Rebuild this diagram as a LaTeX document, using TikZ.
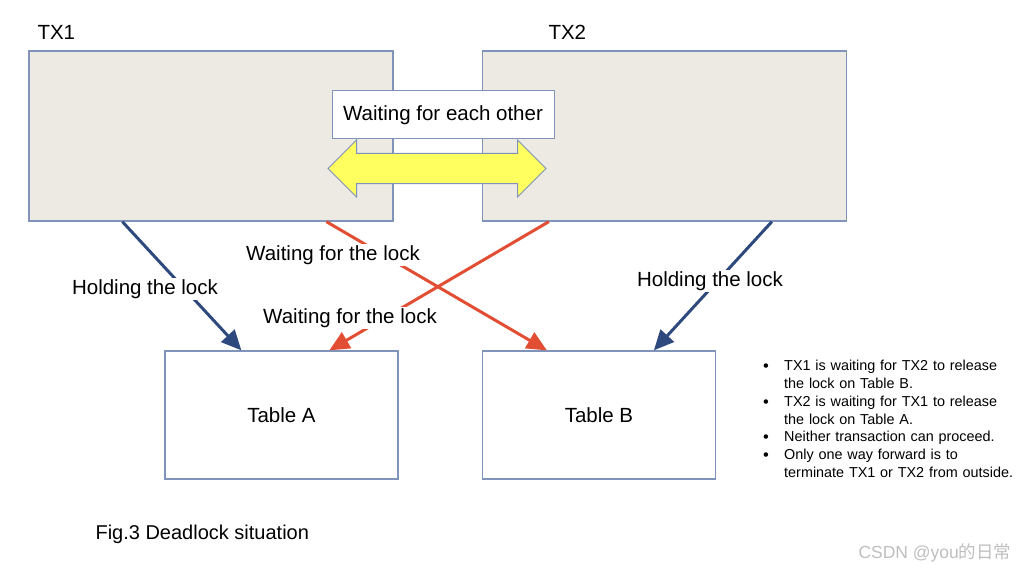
\documentclass[tikz,border=0pt]{standalone}
\usepackage{fontspec}
\setmainfont{Liberation Sans}
\newfontfamily\cjkfont{Noto Sans CJK SC}
\usetikzlibrary{shapes.arrows}
\usetikzlibrary{arrows.meta}
\definecolor{txgray}{RGB}{236,234,227}
\definecolor{edgeblue}{RGB}{128,148,186}
\definecolor{holdblue}{RGB}{45,73,126}
\definecolor{waitred}{RGB}{226,78,52}
\definecolor{arrowyellow}{RGB}{255,255,95}
\definecolor{markgray}{RGB}{190,190,190}
\tikzset{
    txbox/.style={draw=edgeblue, fill=txgray, line width=1.3pt, minimum width=364pt, minimum height=170pt},
    tablebox/.style={draw=edgeblue, fill=white, line width=1.3pt, minimum width=233pt, minimum height=128pt, font=\bigtext},
    holdarrow/.style={draw=holdblue, line width=3pt, -{Triangle[length=20pt,width=18pt]}},
    waitarrow/.style={draw=waitred, line width=3pt, -{Triangle[length=20pt,width=18pt]}},
    lbl/.style={fill=white, inner sep=1pt, font=\bigtext}
}
\newcommand{\bigtext}{\fontsize{20.5}{24}\selectfont}
\newcommand{\noteitem}[1]{\par\noindent\hangindent=24pt\hangafter=1%
    \makebox[24pt][l]{\hspace{3pt}\smash{\raisebox{-1pt}{\fontsize{16.5}{17.7}\selectfont\textbullet}}}#1\par}

\begin{document}
\begin{tikzpicture}[x=1pt, y=-1pt]
    \useasboundingbox (0,0) rectangle (1024,572);

    % Transactions
    \node[txbox] (tx1) at (211,136) {};
    \node[txbox] (tx2) at (664.5,136) {};
    \node[anchor=west, font=\bigtext] (tx1name) at (34,32) {TX1};
    \node[anchor=west, font=\bigtext] (tx2name) at (545,32) {TX2};

    \node[double arrow, draw=edgeblue, fill=arrowyellow, line width=1pt,
          minimum height=218pt, minimum width=56pt, inner xsep=0pt, inner ysep=14.5pt,
          double arrow head extend=13.5pt] (both) at (437,168.5) {};
    \node[draw=edgeblue, fill=white, line width=1pt, minimum width=222pt, minimum height=48pt,
          font=\bigtext] (eachother) at (443,115) {Waiting for each other};

    % Tables
    \node[tablebox] (tabA) at (281.5,415) {Table A};
    \node[tablebox] (tabB) at (599,415) {Table B};

    % Locks
    \draw[holdarrow] ([xshift=94pt]tx1.south west) -- ([xshift=77pt]tabA.north west);
    \draw[waitarrow] ([xshift=298pt]tx1.south west) -- ([xshift=65pt]tabB.north west);
    \draw[waitarrow] ([xshift=67pt]tx2.south west) -- ([xshift=165pt]tabA.north west);
    \draw[holdarrow] ([xshift=290pt]tx2.south west) -- ([xshift=172pt]tabB.north west);

    % Labels
    \node[lbl] (hold1) at (145,289) {Holding the lock};
    \node[lbl] (wait1) at (333,255) {Waiting for the lock};
    \node[lbl] (wait2) at (350,318) {Waiting for the lock};
    \node[lbl] (hold2) at (710,281) {Holding the lock};

    \node[anchor=north west, text width=262pt, inner sep=0pt, align=left,
          font=\fontsize{14.4}{17.7}\selectfont] (notes) at (760,353) {\raggedright
        \noteitem{TX1 is waiting for TX2 to release\newline the lock on Table B.}
        \noteitem{TX2 is waiting for TX1 to release\newline the lock on Table A.}
        \noteitem{Neither transaction can proceed.}
        \noteitem{Only one way forward is to\newline terminate TX1 or TX2 from outside.}};

    \node[anchor=west, font=\fontsize{20}{24}\selectfont] (caption) at (92,534) {Fig.3 Deadlock situation};
    \node[anchor=east, text=markgray, font=\fontsize{17.5}{20}\selectfont] (mark) at (1015,553) {CSDN @you{\cjkfont 的日常}};
\end{tikzpicture}
\end{document}
